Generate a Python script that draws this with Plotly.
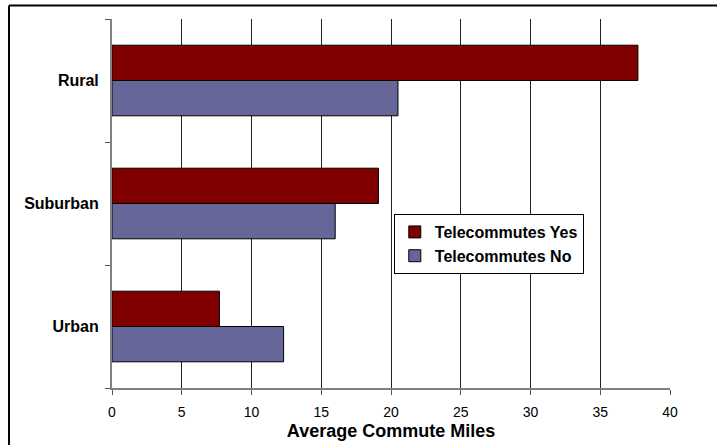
import plotly.graph_objects as go

categories = ["Urban", "Suburban", "Rural"]
telecommutes_yes = [7.7, 19.1, 37.7]
telecommutes_no = [12.3, 16.0, 20.5]
x_ticks = [0, 5, 10, 15, 20, 25, 30, 35, 40]

fig = go.Figure()
fig.add_trace(go.Bar(
    y=categories, x=telecommutes_no, orientation="h", name="Telecommutes No",
    marker=dict(color="#666699", line=dict(color="#000000", width=1)),
    legendrank=2,
))
fig.add_trace(go.Bar(
    y=categories, x=telecommutes_yes, orientation="h", name="Telecommutes Yes",
    marker=dict(color="#800000", line=dict(color="#000000", width=1)),
    legendrank=1,
))

fig.update_layout(
    width=717, height=445,
    margin=dict(l=112, r=47, t=19, b=57),
    paper_bgcolor="white", plot_bgcolor="white",
    barmode="group", bargap=0.426, bargroupgap=0,
    font=dict(family="Liberation Sans, Arial, sans-serif", color="#000000", size=14),
    legend=dict(
        x=0.505, y=0.4715, xanchor="left", yanchor="top",
        bgcolor="white", bordercolor="#000000", borderwidth=1,
        font=dict(size=16, family="Liberation Sans, Arial, sans-serif", weight="bold"),
        tracegroupgap=0, itemwidth=30,
    ),
    showlegend=True,
    xaxis=dict(
        range=[0, 40], tickvals=x_ticks, ticktext=[str(v) for v in x_ticks],
        showgrid=True, gridcolor="#222222", gridwidth=1,
        zeroline=False, automargin=False,
        showline=True, linecolor="#808080", linewidth=2,
        ticks="outside", ticklen=5, tickcolor="#555555",
        tickfont=dict(size=14), ticklabelstandoff=5,
        title=dict(text="<b>Average Commute Miles</b>", font=dict(size=18), standoff=6),
    ),
    yaxis=dict(
        categoryorder="array", categoryarray=categories,
        showgrid=False, zeroline=False, automargin=False,
        showline=True, linecolor="#808080", linewidth=2,
        ticks="outside", ticklen=5, tickcolor="#555555", tickson="boundaries",
        tickfont=dict(size=16, weight="bold"),
        ticklabelstandoff=8,
    ),
    shapes=[
        dict(type="line", xref="paper", yref="paper",
             x0=-0.1846, x1=1.2, y0=1.0366, y1=1.0366,
             line=dict(color="#000000", width=2)),
        dict(type="line", xref="paper", yref="paper",
             x0=-0.1846, x1=-0.1846, y0=1.0366, y1=-0.2,
             line=dict(color="#000000", width=2)),
    ],
)

fig.write_html("out.html")
